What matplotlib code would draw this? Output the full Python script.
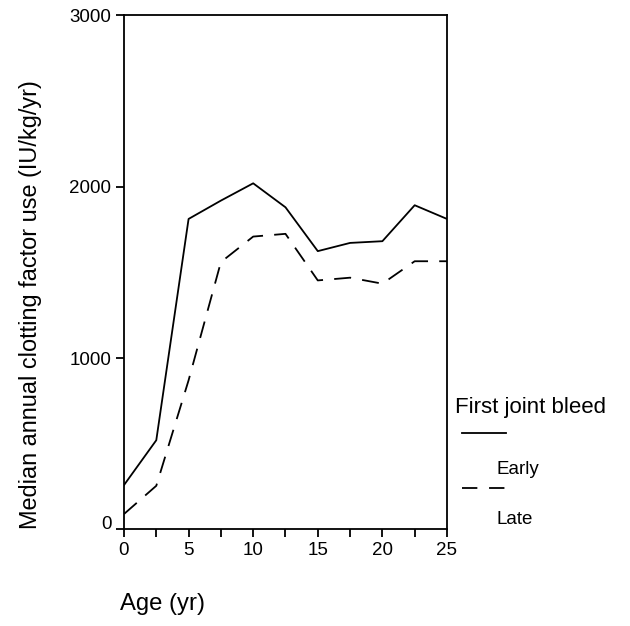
import matplotlib
matplotlib.use("Agg")
import matplotlib.pyplot as plt
import matplotlib.transforms as mtransforms
from matplotlib.lines import Line2D
import numpy as np

plt.rcParams['font.family'] = ['Liberation Sans', 'DejaVu Sans']

# Data (age in years, median IU/kg/yr)
age = [0, 2.5, 5, 7.5, 10, 12.5, 15, 17.5, 20, 22.5, 25]
early = [258, 520, 1812, 1919, 2020, 1880, 1624, 1672, 1682, 1892, 1812]
late = [89, 254, 870, 1560, 1709, 1725, 1453, 1469, 1434, 1565, 1565]

fig = plt.figure(figsize=(6.3, 6.26), dpi=100)
ax = fig.add_axes([0.1968, 0.1545, 0.5127, 0.8208])

ax.plot(age, early, color='black', lw=1.3)
ax.plot(age, late, color='black', lw=1.3, dashes=(9.4, 6.2))

ax.set_xlim(0, 25)
ax.set_ylim(0, 3000)
ax.set_xticks([0, 5, 10, 15, 20, 25])
ax.set_xticks(np.arange(0, 25.1, 2.5), minor=True)
ax.set_yticks([0, 1000, 2000, 3000])
ax.tick_params(which='both', direction='out', length=6, width=1.3, labelsize=13.5, pad=3)
for s in ax.spines.values():
    s.set_linewidth(1.3)

# the "0" on the y axis sits a little above its tick in the original
zero_lbl = ax.yaxis.get_major_ticks()[0].label1
zero_lbl.set_transform(mtransforms.offset_copy(zero_lbl.get_transform(), fig=fig, y=7, units='dots'))

fig.text(0.048, 1 - 305 / 626, 'Median annual clotting factor use (IU/kg/yr)', rotation=90,
         ha='center', va='center', fontsize=16.9)
fig.text(120 / 630, 1 - 604 / 626, 'Age (yr)', ha='left', va='center', fontsize=17.2)

# legend drawn by hand
fig.text(0.722, 1 - 407 / 626, 'First joint bleed', ha='left', va='center', fontsize=16)
fig.add_artist(Line2D([462 / 630, 506 / 630], [1 - 433 / 626] * 2, color='black', lw=1.3))
fig.text(497 / 630, 1 - 469 / 626, 'Early', ha='left', va='center', fontsize=13.5)
fig.add_artist(Line2D([462 / 630, 506 / 630], [1 - 488 / 626] * 2, color='black', lw=1.3,
                      dashes=(8.5, 6.5)))
fig.text(497 / 630, 1 - 520 / 626, 'Late', ha='left', va='center', fontsize=13.5)

fig.savefig('out.png', dpi=100)
